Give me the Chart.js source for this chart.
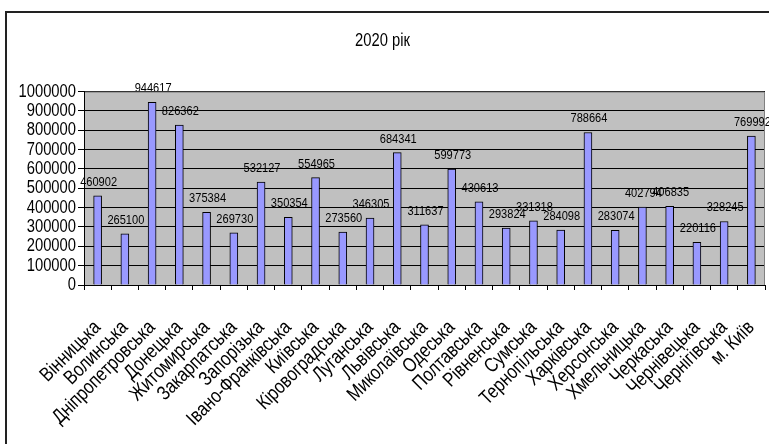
<!DOCTYPE html>
<html>
<head>
<meta charset="utf-8">
<script src="https://cdn.jsdelivr.net/npm/chart.js@4/dist/chart.umd.min.js"></script>
<style>
  html, body { margin: 0; padding: 0; background: #fff; overflow: hidden; }
  #wrap { position: relative; width: 769px; height: 444px; }
  #frame { position: absolute; left: 5px; top: 11px; width: 800px; height: 500px;
           border-left: 2px solid #222; border-top: 2px solid #222; box-sizing: border-box; }
  canvas { position: absolute; left: 0; top: 0; }
</style>
</head>
<body>
<div id="wrap">
  <div id="frame"></div>
  <canvas id="c" width="769" height="444"></canvas>
</div>
<script>
// Regions of Ukraine and their 2020 values
const regions = [
  'Вінницька', 'Волинська', 'Дніпропетровська', 'Донецька', 'Житомирська',
  'Закарпатська', 'Запорізька', 'Івано-Франківська', 'Київська', 'Кіровоградська',
  'Луганська', 'Львівська', 'Миколаївська', 'Одеська', 'Полтавська',
  'Рівненська', 'Сумська', 'Тернопільська', 'Харківська', 'Херсонська',
  'Хмельницька', 'Черкаська', 'Чернівецька', 'Чернігівська', 'м. Київ'
];
const values2020 = [
  460902, 265100, 944617, 826362, 375384,
  269730, 532127, 350354, 554965, 273560,
  346305, 684341, 311637, 599773, 430613,
  293824, 331318, 284098, 788664, 283074,
  402794, 406835, 220116, 328245, 769992
];
const chartTitle = '2020 рік';
const yMin = 0, yMax = 1000000, yStep = 100000;

const FONT = "'Liberation Sans', Arial, sans-serif";

// No narrow sans face is installed, so text on this canvas is drawn
// horizontally condensed (an Arial Narrow look) along its own baseline.
const SQUEEZE = 0.82;
const canvas = document.getElementById('c');
const ctx2d = canvas.getContext('2d');
const nativeFill = ctx2d.fillText.bind(ctx2d);
const nativeMeasure = ctx2d.measureText.bind(ctx2d);
ctx2d.fillText = function (text, x, y, maxWidth) {
  this.save();
  this.translate(x, y);
  this.scale(SQUEEZE, 1);
  if (maxWidth === undefined || maxWidth === null) nativeFill(text, 0, 0);
  else nativeFill(text, 0, 0, maxWidth / SQUEEZE);
  this.restore();
};
ctx2d.measureText = function (text) {
  const m = nativeMeasure(text);
  return {
    width: m.width * SQUEEZE,
    actualBoundingBoxLeft: m.actualBoundingBoxLeft * SQUEEZE,
    actualBoundingBoxRight: m.actualBoundingBoxRight * SQUEEZE,
    actualBoundingBoxAscent: m.actualBoundingBoxAscent,
    actualBoundingBoxDescent: m.actualBoundingBoxDescent,
    fontBoundingBoxAscent: m.fontBoundingBoxAscent,
    fontBoundingBoxDescent: m.fontBoundingBoxDescent
  };
};

// grey plot background plus its grey top/right edge
const plotBackground = {
  id: 'plotBackground',
  beforeDraw(chart) {
    const { ctx, chartArea: a } = chart;
    ctx.save();
    ctx.fillStyle = '#c0c0c0';
    ctx.fillRect(a.left, a.top, a.right - a.left, a.bottom - a.top);
    ctx.restore();
  },
  afterDraw(chart) {
    const { ctx, chartArea: a } = chart;
    ctx.save();
    ctx.strokeStyle = '#808080';
    ctx.lineWidth = 1;
    ctx.beginPath();
    ctx.moveTo(a.left + 1, a.top + 0.5);
    ctx.lineTo(a.right - 0.5, a.top + 0.5);
    ctx.lineTo(a.right - 0.5, a.bottom);
    ctx.stroke();
    ctx.restore();
  }
};

// value printed above every bar
const valueLabels = {
  id: 'valueLabels',
  afterDatasetsDraw(chart) {
    const { ctx } = chart;
    const meta = chart.getDatasetMeta(0);
    ctx.save();
    ctx.font = '13.5px ' + FONT;
    ctx.fillStyle = '#000';
    ctx.textAlign = 'center';
    ctx.textBaseline = 'bottom';
    meta.data.forEach((bar, i) => {
      ctx.fillText(String(chart.data.datasets[0].data[i]), bar.x + 1, bar.y - 7);
    });
    ctx.restore();
  }
};

new Chart(canvas, {
  type: 'bar',
  data: {
    labels: regions,
    datasets: [{
      data: values2020,
      backgroundColor: '#9999ff',
      borderColor: '#000',
      borderWidth: 1,
      borderSkipped: 'bottom',
      barThickness: 8
    }]
  },
  options: {
    responsive: false,
    animation: false,
    events: [],
    layout: { padding: { left: 0, right: 4, top: 0, bottom: 0 } },
    plugins: {
      legend: { display: false },
      tooltip: { enabled: false },
      title: {
        display: true,
        text: chartTitle,
        color: '#000',
        font: { family: FONT, size: 18, weight: 'normal', lineHeight: 1.2 },
        padding: { top: 30, bottom: 40 }
      }
    },
    scales: {
      x: {
        afterFit(s) { s.height = 159; s.paddingLeft = 0; s.paddingRight = 0; },
        grid: {
          offset: true,
          drawOnChartArea: false,
          drawTicks: true,
          tickLength: 5,
          color: '#000'
        },
        border: { color: '#000', width: 1 },
        ticks: {
          autoSkip: false,
          maxRotation: 45,
          minRotation: 45,
          padding: 26,
          color: '#000',
          font: { family: FONT, size: 20 }
        }
      },
      y: {
        min: yMin,
        max: yMax,
        afterFit(s) { s.width = 84; },
        grid: {
          color: '#000',
          tickLength: 6,
          drawTicks: true
        },
        border: { color: '#000', width: 1 },
        ticks: {
          autoSkip: false,
          stepSize: yStep,
          padding: 2,
          color: '#000',
          font: { family: FONT, size: 18 },
          callback: v => String(v)
        }
      }
    }
  },
  plugins: [plotBackground, valueLabels]
});
</script>
</body>
</html>
